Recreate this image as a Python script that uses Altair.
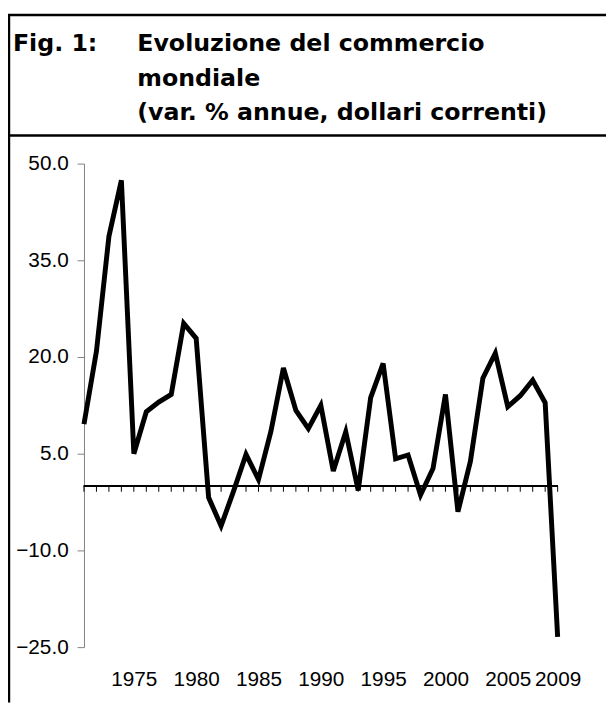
import altair as alt
import pandas as pd

YEARS = list(range(1971, 2010))
VALUES = [9.6, 20.9, 38.7, 47.4, 5.0, 11.5, 13.0, 14.2, 25.2, 22.9,
          -1.8, -6.2, -0.8, 4.9, 1.0, 8.5, 18.3, 11.7, 8.9, 12.5,
          2.3, 8.4, -0.7, 13.7, 19.0, 4.2, 4.8, -1.4, 2.7, 14.2,
          -4.0, 3.8, 16.7, 20.6, 12.3, 14.0, 16.4, 12.9, -23.4]
X_LABELS = [1975, 1980, 1985, 1990, 1995, 2000, 2005, 2009]
Y_TICKS = [-25, -10, 5, 20, 35, 50]
TITLE_PREFIX = "Fig. 1:"
TITLE_LINES = ["Evoluzione del commercio", "mondiale",
               "(var. % annue, dollari correnti)"]

df = pd.DataFrame({"year": YEARS, "value": VALUES})

W, H = 480, 490
xs = alt.Scale(domain=[YEARS[0], YEARS[-1]], nice=False, zero=False)
ys = alt.Scale(domain=[min(Y_TICKS), max(Y_TICKS)], nice=False, zero=False)

line = alt.Chart(df).mark_line(
    color="black", strokeWidth=5, strokeJoin="miter", strokeCap="butt"
).encode(
    x=alt.X("year:Q", scale=xs, axis=alt.Axis(
        values=X_LABELS, format="d", domain=False, ticks=False, tickSize=0,
        grid=False, title=None, labelFont="Liberation Sans", labelFontSize=21,
        labelColor="black", labelPadding=22, labelFlush=False, labelOverlap=False)),
    y=alt.Y("value:Q", scale=ys, axis=alt.Axis(
        values=Y_TICKS, format=".1f", grid=False, title=None,
        domainColor="#808080", tickColor="#808080", tickSize=7, domainWidth=1,
        labelFont="Liberation Sans", labelFontSize=21, labelColor="black",
        labelPadding=9)),
)

zero = alt.Chart(df).mark_rule(color="black", strokeWidth=1).encode(
    x=alt.datum(YEARS[0]), x2=alt.datum(YEARS[-1]), y=alt.datum(0)
)
ticks = alt.Chart(df).mark_rule(color="black", strokeWidth=1).encode(
    x=alt.X("year:Q", scale=xs), y=alt.datum(0), y2=alt.datum(-0.9)
)

one = pd.DataFrame({"a": [0]})
border = alt.Chart(one).mark_rule(color="black", strokeWidth=2.5)
top_line = border.encode(x=alt.value(-77), x2=alt.value(529), y=alt.value(-150.5))
left_line = border.encode(x=alt.value(-76), y=alt.value(-151.5), y2=alt.value(546))
sep_line = border.encode(x=alt.value(-77), x2=alt.value(529), y=alt.value(-28.5))

def title_text(txt, x, y):
    return alt.Chart(pd.DataFrame({"t": [txt]})).mark_text(
        align="left", baseline="alphabetic", font="DejaVu Sans",
        fontWeight="bold", fontSize=24, color="black"
    ).encode(x=alt.value(x), y=alt.value(y), text="t:N")

t0 = title_text(TITLE_PREFIX, -72, -114)
t1 = title_text(TITLE_LINES[0], 54, -114)
t2 = title_text(TITLE_LINES[1], 54, -79)
t3 = title_text(TITLE_LINES[2], 54, -44)

chart = alt.layer(
    zero, ticks, line, top_line, left_line, sep_line, t0, t1, t2, t3
).properties(
    width=W, height=H,
    autosize=alt.AutoSizeParams(type="none"),
    padding={"left": 77, "top": 153, "right": 49, "bottom": 55},
    background="white",
).configure_view(stroke=None)

chart.save("out.html", embed_options={"renderer": "svg", "actions": False})
